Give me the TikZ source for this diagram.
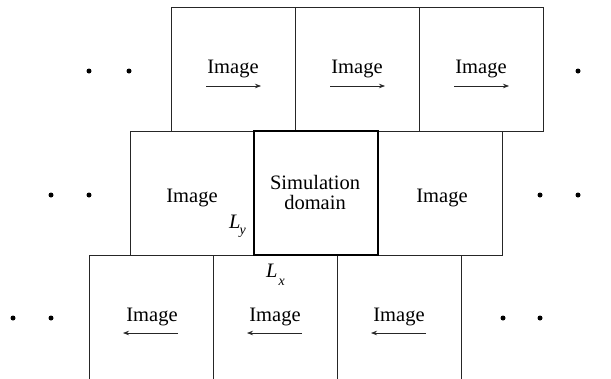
\documentclass[tikz,border=0pt]{standalone}
\usepackage{fontspec}
\setmainfont{Liberation Serif}
\newfontfamily\tnr{Liberation Serif}
\usetikzlibrary{arrows.meta}
\tikzset{
  cell/.style={draw=black!85,line width=0.9pt,minimum width=124pt,minimum height=124pt,anchor=north west,inner sep=0pt,outer sep=0pt},
  opencell/.style={minimum width=124pt,minimum height=140pt,anchor=north west,inner sep=0pt,outer sep=0pt},
  simcell/.style={cell,draw=black,line width=1.8pt},
  lbl/.style={font=\tnr\fontsize{20.5}{20}\selectfont,inner sep=0pt,anchor=base},
  dot/.style={circle,fill=black,inner sep=0pt,minimum size=5pt},
  arr/.style={-{Stealth[length=6pt,width=4.5pt]},line width=0.7pt,draw=black!85},
  edge/.style={draw=black!85,line width=0.9pt},
  mathlbl/.style={font=\tnr\fontsize{20.5}{20}\selectfont\itshape,inner sep=0pt,anchor=base west},
  sublbl/.style={font=\tnr\fontsize{14}{14}\selectfont\itshape,inner sep=0pt,anchor=base west}
}
\begin{document}
\begin{tikzpicture}[x=1pt,y=-1pt]
\useasboundingbox (0,0) rectangle (611,378);
% top row
\node[cell] (t1) at (171,7) {};
\node[cell] (t2) at (295,7) {};
\node[cell] (t3) at (419,7) {};
% middle row
\node[cell] (m1) at (130,131) {};
\node[cell] (m3) at (378,131) {};
% bottom row (cut off at bottom)
\node[opencell] (b1) at (89,255) {};
\node[opencell] (b2) at (213,255) {};
\node[opencell] (b3) at (337,255) {};
\draw[edge] (b1.south west) -- (b1.north west) -- (b3.north east) -- (b3.south east);
\draw[edge] (b2.north west) -- (b2.south west);
\draw[edge] (b3.north west) -- (b3.south west);
% simulation domain
\node[simcell] (sim) at (254,131) {};

% texts top
\node[lbl] (ti1) at (233,73) {Image};
\node[lbl] (ti2) at (357,73) {Image};
\node[lbl] (ti3) at (481,73) {Image};
% texts middle
\node[lbl] (mi1) at (192,202) {Image};
\node[lbl] (mi3) at (442,202) {Image};
\node[lbl,align=center,anchor=base] (simt) at (315,209) {Simulation\\domain};
% texts bottom
\node[lbl] (bi1) at (152,321) {Image};
\node[lbl] (bi2) at (275,321) {Image};
\node[lbl] (bi3) at (399,321) {Image};

% arrows top (to the right)
\coordinate (ta1s) at (206,86); \coordinate (ta1e) at (261,86);
\coordinate (ta2s) at (330,86); \coordinate (ta2e) at (385,86);
\coordinate (ta3s) at (454,86); \coordinate (ta3e) at (509,86);
\draw[arr] (ta1s) -- (ta1e);
\draw[arr] (ta2s) -- (ta2e);
\draw[arr] (ta3s) -- (ta3e);
% arrows bottom (to the left)
\coordinate (ba1s) at (178,333); \coordinate (ba1e) at (123,333);
\coordinate (ba2s) at (302,333); \coordinate (ba2e) at (247,333);
\coordinate (ba3s) at (426,333); \coordinate (ba3e) at (371,333);
\draw[arr] (ba1s) -- (ba1e);
\draw[arr] (ba2s) -- (ba2e);
\draw[arr] (ba3s) -- (ba3e);

% L labels
\node[mathlbl] (ly) at (229,228) {L};
\node[sublbl] (lysub) at (239.5,234) {y};
\node[mathlbl] (lx) at (266,277) {L};
\node[sublbl] (lxsub) at (278.5,285) {x};

% dots
\node[dot] (d1) at (89,71) {};
\node[dot] (d2) at (129,71) {};
\node[dot] (d3) at (578,71) {};
\node[dot] (d4) at (51,195) {};
\node[dot] (d5) at (89,195) {};
\node[dot] (d6) at (540,195) {};
\node[dot] (d7) at (578,195) {};
\node[dot] (d8) at (13,318) {};
\node[dot] (d9) at (51,318) {};
\node[dot] (d10) at (503,318) {};
\node[dot] (d11) at (540,318) {};
\end{tikzpicture}
\end{document}
